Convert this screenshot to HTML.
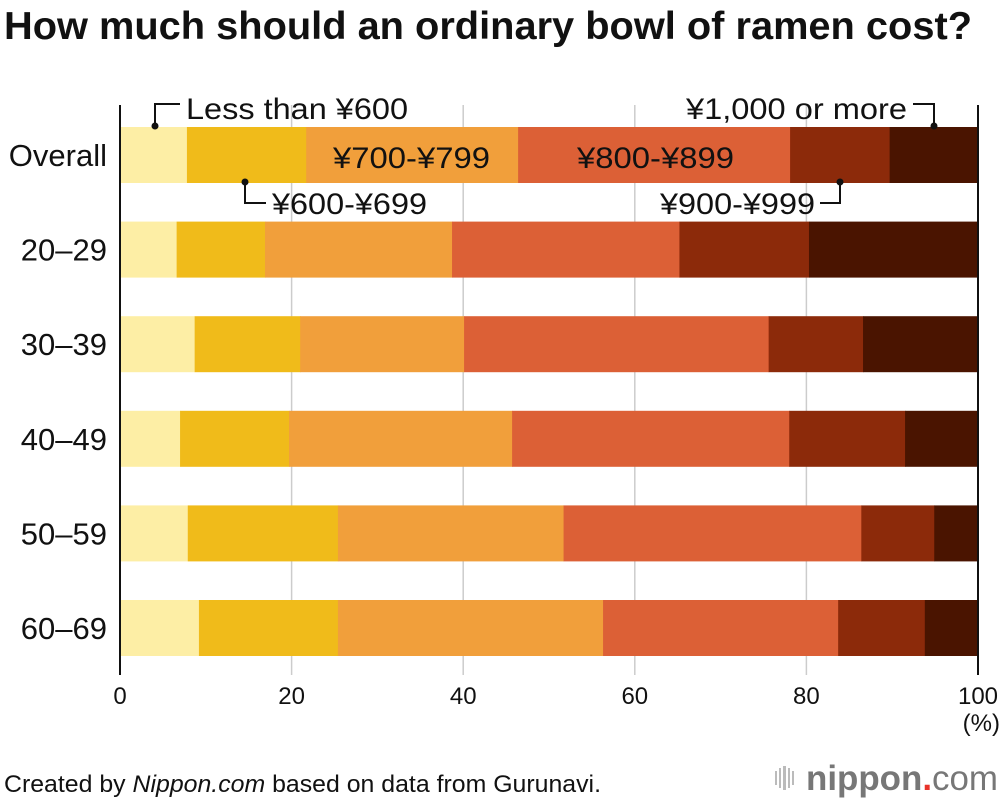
<!DOCTYPE html>
<html><head><meta charset="utf-8"><style>
body{margin:0;background:#fff;font-family:"Liberation Sans",sans-serif}
svg text{font-family:"Liberation Sans",sans-serif}
</style></head><body>
<svg width="1000" height="802" viewBox="0 0 1000 802">
<text x="4" y="39" font-size="39" font-weight="bold" fill="#111" textLength="968" lengthAdjust="spacingAndGlyphs">How much should an ordinary bowl of ramen cost?</text>
<g id="grid"></g>
<g id="bars"></g>
<g id="axis"></g>
<g id="labels" font-size="30" fill="#111">
<text x="186" y="119" textLength="222" lengthAdjust="spacingAndGlyphs">Less than ¥600</text>
<polyline points="155,124 155,104 180,104" fill="none" stroke="#111" stroke-width="2"/>
<circle cx="155" cy="126" r="3.5" fill="#111"/>
<text x="272" y="214" textLength="155" lengthAdjust="spacingAndGlyphs">¥600-¥699</text>
<polyline points="245,182 245,203 266,203" fill="none" stroke="#111" stroke-width="2"/>
<circle cx="245" cy="182" r="3.5" fill="#111"/>
<text x="333" y="168" textLength="157" lengthAdjust="spacingAndGlyphs">¥700-¥799</text>
<text x="577" y="168" textLength="157" lengthAdjust="spacingAndGlyphs">¥800-¥899</text>
<text x="660" y="214" textLength="155" lengthAdjust="spacingAndGlyphs">¥900-¥999</text>
<polyline points="840,182 840,203 820,203" fill="none" stroke="#111" stroke-width="2"/>
<circle cx="840" cy="182" r="3.5" fill="#111"/>
<text x="686" y="119" textLength="221" lengthAdjust="spacingAndGlyphs">¥1,000 or more</text>
<polyline points="913,104 934,104 934,124" fill="none" stroke="#111" stroke-width="2"/>
<circle cx="934" cy="126" r="3.5" fill="#111"/>
</g>
<text x="1000" y="731" font-size="24" text-anchor="end" fill="#111">(%)</text>
<text x="4" y="792" font-size="24" fill="#111" textLength="597" lengthAdjust="spacingAndGlyphs">Created by <tspan font-style="italic">Nippon.com</tspan> based on data from Gurunavi.</text>
<g>
<rect x="775" y="771" width="2" height="14" fill="#bbb"/><rect x="779" y="768" width="2" height="20" fill="#bbb"/><rect x="783" y="766" width="3" height="24" fill="#bbb"/><rect x="788" y="768" width="2" height="20" fill="#bbb"/><rect x="792" y="771" width="2" height="14" fill="#bbb"/>
<text x="806" y="790" font-size="35" font-weight="bold" fill="#777" textLength="192" lengthAdjust="spacingAndGlyphs">nippon<tspan fill="#e8332a">.</tspan><tspan font-weight="normal">com</tspan></text>
</g>
</svg>
<script>
const categories=["Overall","20–29","30–39","40–49","50–59","60–69"];
const lessThan600=[7.8,6.6,8.7,7.0,7.9,9.2];
const y600to699=[13.9,10.3,12.3,12.7,17.5,16.2];
const y700to799=[24.7,21.8,19.1,26.0,26.3,30.9];
const y800to899=[31.7,26.5,35.5,32.3,34.7,27.4];
const y900to999=[11.6,15.1,11.0,13.5,8.5,10.1];
const y1000plus=[10.3,19.7,13.4,8.5,5.1,6.2];
const xTicks=[0,20,40,60,80,100];
const series=[lessThan600,y600to699,y700to799,y800to899,y900to999,y1000plus];
const seriesNames=["less-600","600-699","700-799","800-899","900-999","1000-more"];
const colors=["#fdeea5","#f0bb1a","#f19f3b","#dc6036","#8c2a0a","#4a1400"];
const NS="http://www.w3.org/2000/svg";
const x=v=>120+v*8.58;
const yTop=i=>127+i*94.6;
const bh=56;
function mk(t,a,p){const e=document.createElementNS(NS,t);for(const k in a)e.setAttribute(k,a[k]);p.appendChild(e);return e;}
const grid=document.getElementById('grid'),bars=document.getElementById('bars'),axis=document.getElementById('axis');
xTicks.forEach(t=>{
 if(t>0&&t<100){const l=mk('line',{x1:x(t),x2:x(t),y1:105,y2:675,stroke:'#ccc','stroke-width':1.5},grid);
 
 }
 const tx=mk('text',{x:x(t),y:704,'font-size':24,'text-anchor':'middle',fill:'#111'},axis);
 tx.textContent=t;
 
 
});
categories.forEach((c,i)=>{
 let acc=0;
 series.forEach((s,j)=>{
  const r=mk('rect',{x:x(acc),y:yTop(i),width:x(acc+s[i])-x(acc)+0.5,height:bh,fill:colors[j]},bars);
  
  
  acc+=s[i];
 });
 const t=mk('text',{x:107,y:yTop(i)+bh/2+11,'font-size':31,'text-anchor':'end',fill:'#111'},axis);
 t.textContent=c;
 
 
});
[0,100].forEach(v=>{const l=mk('line',{x1:x(v),x2:x(v),y1:105,y2:675,stroke:'#111','stroke-width':2},axis);
 
 });
</script>
</body></html>
